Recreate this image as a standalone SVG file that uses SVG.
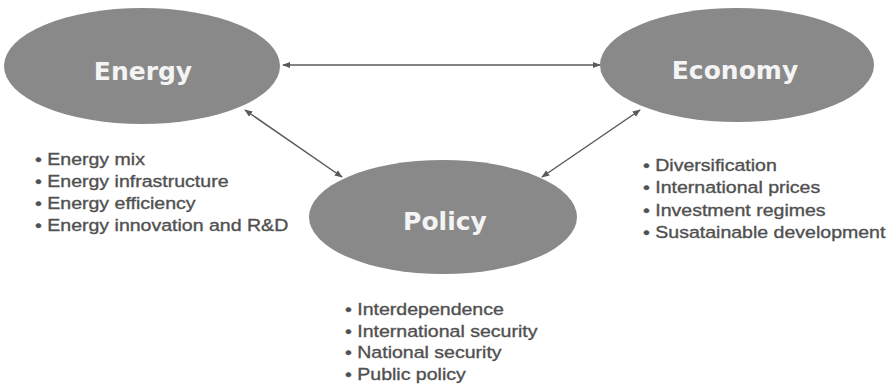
<svg xmlns="http://www.w3.org/2000/svg" width="894" height="388" viewBox="0 0 894 388">
<style>
.node{fill:#898989;}
.title{font-family:"DejaVu Sans",Verdana,sans-serif;font-weight:bold;font-size:25px;fill:#f4f4f4;text-anchor:middle;}
.list{font-family:"Liberation Sans",Arial,sans-serif;font-size:17px;fill:#505050;stroke:#505050;stroke-width:0.35;}
.conn{stroke:#5a5a5a;stroke-width:1.5;fill:none;marker-start:url(#ah);marker-end:url(#ah);}
</style>
<defs>
<marker id="ah" viewBox="0 0 10 10" refX="9" refY="5" markerWidth="8" markerHeight="8" markerUnits="userSpaceOnUse" orient="auto-start-reverse">
<path d="M0,1 L10,5 L0,9 z" fill="#5a5a5a"/>
</marker>
</defs>
<rect width="894" height="388" fill="#ffffff"/>
<g id="connectors">
<line class="conn" x1="283" y1="65" x2="600" y2="65"/>
<line class="conn" x1="245" y1="110" x2="342" y2="177"/>
<line class="conn" x1="640" y1="110" x2="542" y2="177"/>
</g>
<g id="energy">
<ellipse class="node" cx="142" cy="66" rx="138" ry="58"/>
<text class="title" x="143" y="80">Energy</text>
</g>
<g id="economy">
<ellipse class="node" cx="737" cy="65" rx="137" ry="57"/>
<text class="title" x="735" y="79">Economy</text>
</g>
<g id="policy">
<ellipse class="node" cx="443" cy="217" rx="134" ry="57"/>
<text class="title" x="445" y="230">Policy</text>
</g>
<g id="energy-list" class="list" transform="translate(35,0) scale(1.15,1)">
<text x="0" y="165">• Energy mix</text>
<text x="0" y="187">• Energy infrastructure</text>
<text x="0" y="209">• Energy efficiency</text>
<text x="0" y="231">• Energy innovation and R&amp;D</text>
</g>
<g id="economy-list" class="list" transform="translate(643,0) scale(1.15,1)">
<text x="0" y="171">• Diversification</text>
<text x="0" y="193">• International prices</text>
<text x="0" y="216">• Investment regimes</text>
<text x="0" y="238">• Susatainable development</text>
</g>
<g id="policy-list" class="list" transform="translate(345,0) scale(1.15,1)">
<text x="0" y="315">• Interdependence</text>
<text x="0" y="337">• International security</text>
<text x="0" y="358">• National security</text>
<text x="0" y="380">• Public policy</text>
</g>
</svg>
